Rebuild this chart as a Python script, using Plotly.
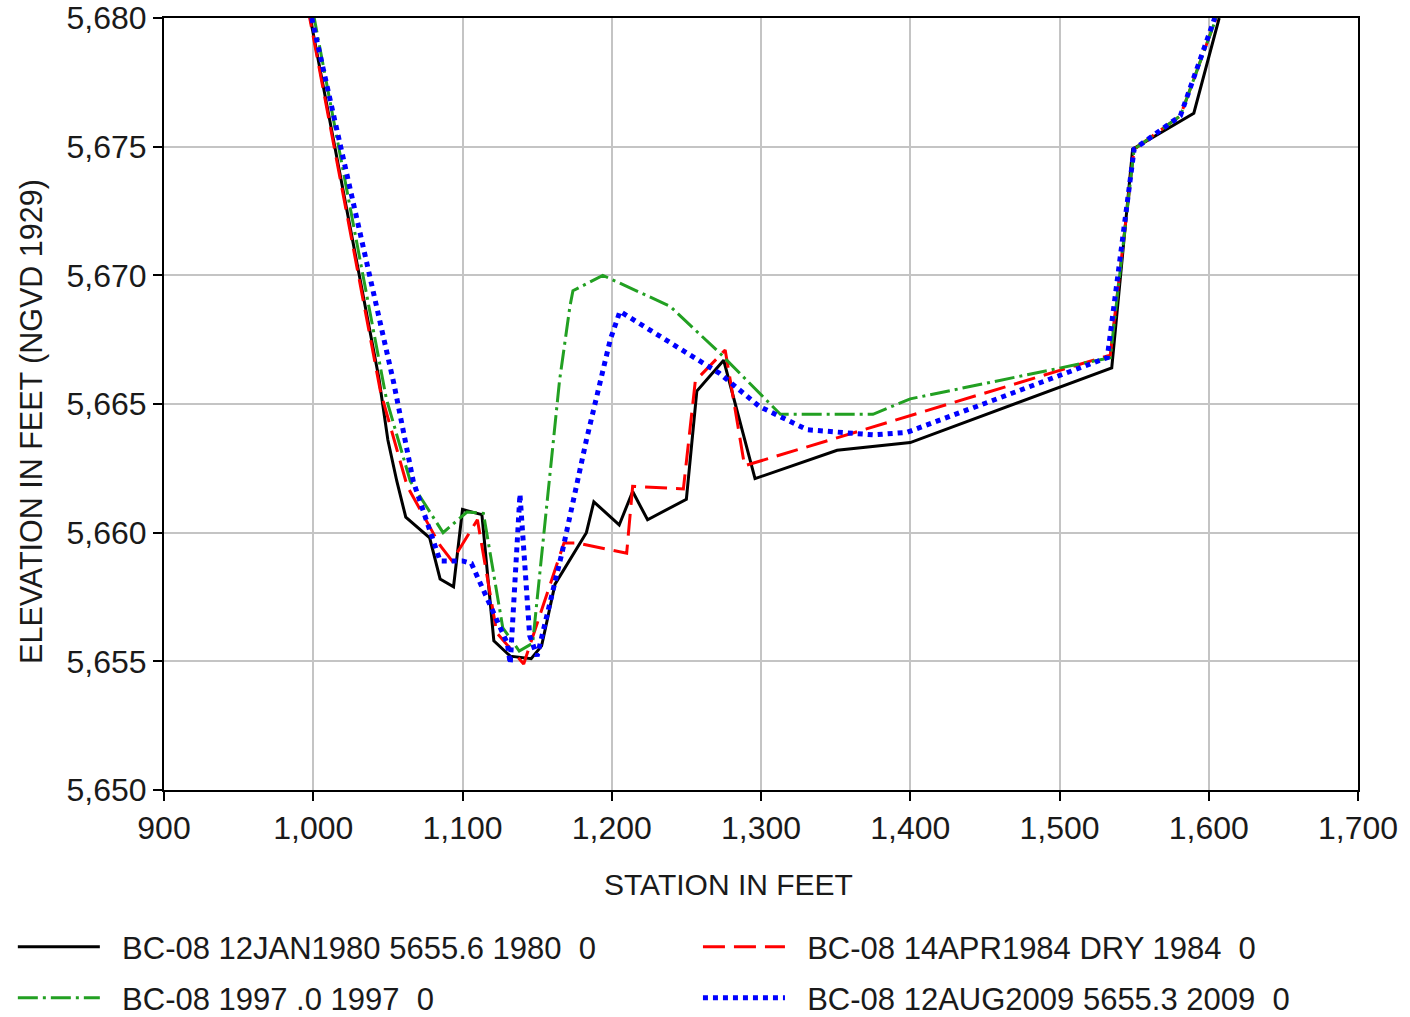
import plotly.graph_objects as go

# Cross-section survey BC-08: station (ft) vs. ground elevation (ft, NGVD 1929)
names = [
    "BC-08 12JAN1980 5655.6 1980  0",
    "BC-08 14APR1984 DRY 1984  0",
    "BC-08 1997 .0 1997  0",
    "BC-08 12AUG2009 5655.3 2009  0",
]
x_title = "STATION IN FEET"
y_title = "ELEVATION IN FEET (NGVD 1929)"

sta_1980 = [998, 1044, 1050, 1056, 1062, 1078, 1085, 1094, 1100, 1113, 1121, 1132,
            1146, 1153, 1162, 1183, 1188, 1205, 1214, 1224, 1250, 1257, 1275, 1296,
            1351, 1400, 1535, 1549, 1590, 1607]
elev_1980 = [5680.0, 5666.0, 5663.6, 5662.0, 5660.6, 5659.8, 5658.2, 5657.9, 5660.9,
             5660.7, 5655.8, 5655.2, 5655.1, 5655.6, 5658.0, 5660.0, 5661.2, 5660.3,
             5661.6, 5660.5, 5661.3, 5665.5, 5666.7, 5662.1, 5663.2, 5663.5, 5666.4,
             5674.9, 5676.3, 5680.0]

sta_1984 = [996, 1045, 1063, 1085, 1093, 1110, 1123, 1141, 1168, 1177, 1210, 1214,
            1248, 1256, 1276, 1289, 1534, 1550, 1581, 1605]
elev_1984 = [5680.5, 5665.5, 5661.8, 5659.5, 5658.9, 5660.5, 5656.1, 5654.9, 5659.6,
             5659.6, 5659.2, 5661.8, 5661.7, 5665.9, 5667.1, 5662.6, 5666.9, 5674.9,
             5676.2, 5680.0]

sta_1997 = [1000, 1033, 1049, 1065, 1087, 1103, 1114, 1127, 1138, 1147, 1165, 1172,
            1174, 1194, 1239, 1272, 1299, 1313, 1375, 1400, 1534, 1550, 1581, 1605]
elev_1997 = [5680.2, 5670.1, 5665.2, 5662.0, 5660.0, 5660.8, 5660.75, 5656.3, 5655.4,
             5655.7, 5665.9, 5668.8, 5669.4, 5670.0, 5668.8, 5667.0, 5665.4, 5664.6,
             5664.6, 5665.2, 5666.8, 5674.9, 5676.2, 5680.0]

sta_2009 = [999, 1040, 1054, 1067, 1078, 1085, 1100, 1106, 1130, 1132, 1138.5, 1145,
            1150, 1167, 1183, 1199, 1205.5, 1239, 1272, 1299, 1331, 1375, 1398, 1532,
            1550, 1581, 1604]
elev_2009 = [5680.0, 5669.3, 5665.8, 5662.0, 5660.1, 5658.9, 5658.9, 5658.8, 5655.7,
             5654.9, 5661.5, 5656.0, 5655.2, 5659.3, 5663.6, 5667.5, 5668.6, 5667.4,
             5666.2, 5664.9, 5664.0, 5663.8, 5663.9, 5666.8, 5674.9, 5676.2, 5680.0]

x_ticks = list(range(900, 1701, 100))
y_ticks = list(range(5650, 5681, 5))

styles = [
    dict(color="#000000", width=3, dash="solid"),
    dict(color="#ff0000", width=3, dash="22px,9px"),
    dict(color="#22a022", width=3, dash="20px,5px,3px,5px"),
    dict(color="#0000ff", width=5, dash="5px,5px"),
]
series = [(sta_1980, elev_1980), (sta_1984, elev_1984),
          (sta_1997, elev_1997), (sta_2009, elev_2009)]

# one single-entry legend per cell of the 2 x 2 key below the chart
legend_ids = ["legend", "legend2", "legend3", "legend4"]
legend_x = [-0.1266, 0.4472, -0.1266, 0.4472]
legend_y = [-0.2034, -0.2034, -0.2694, -0.2694]

fig = go.Figure()
for (xs, ys), nm, st, lg in zip(series, names, styles, legend_ids):
    fig.add_trace(go.Scatter(x=xs, y=ys, mode="lines", name="  " + nm, line=st,
                             legend=lg))

font_main = "Liberation Sans, Arial, sans-serif"

legend_common = dict(
    orientation="h", xanchor="left", yanchor="middle", itemwidth=82,
    font=dict(size=31, family=font_main, color="#1a1a1a"),
    bgcolor="rgba(0,0,0,0)",
)
legends = {lg: dict(legend_common, x=lx, y=ly)
           for lg, lx, ly in zip(legend_ids, legend_x, legend_y)}

fig.update_layout(
    width=1410, height=1017,
    margin=dict(l=164, r=52, t=18, b=227, autoexpand=False),
    paper_bgcolor="white", plot_bgcolor="white",
    font=dict(family=font_main, color="#1a1a1a", size=30),
    showlegend=True,
    annotations=[
        dict(text=x_title, xref="paper", yref="paper", x=0.4724, y=-0.1218,
             xanchor="center", yanchor="middle", showarrow=False,
             font=dict(size=30)),
        dict(text=y_title, xref="paper", yref="paper", x=-0.1106, y=0.478,
             xanchor="center", yanchor="middle", showarrow=False, textangle=-90,
             font=dict(size=30.5)),
    ],
    **legends,
)

fig.update_xaxes(
    range=[900, 1700], tickvals=x_ticks,
    ticktext=[f"{v:,}" for v in x_ticks],
    showgrid=True, gridcolor="#c4c4c4", gridwidth=2,
    showline=True, linecolor="black", linewidth=2, mirror=True,
    ticks="outside", ticklen=9, tickwidth=2, tickcolor="black",
    tickfont=dict(size=32), zeroline=False,
)
fig.update_yaxes(
    range=[5650, 5680], tickvals=y_ticks,
    ticktext=[f"{v:,}" for v in y_ticks],
    showgrid=True, gridcolor="#c4c4c4", gridwidth=2,
    showline=True, linecolor="black", linewidth=2, mirror=True,
    ticks="outside", ticklen=9, tickwidth=2, tickcolor="black",
    tickfont=dict(size=32), zeroline=False,
)

fig.write_html("out.html")
